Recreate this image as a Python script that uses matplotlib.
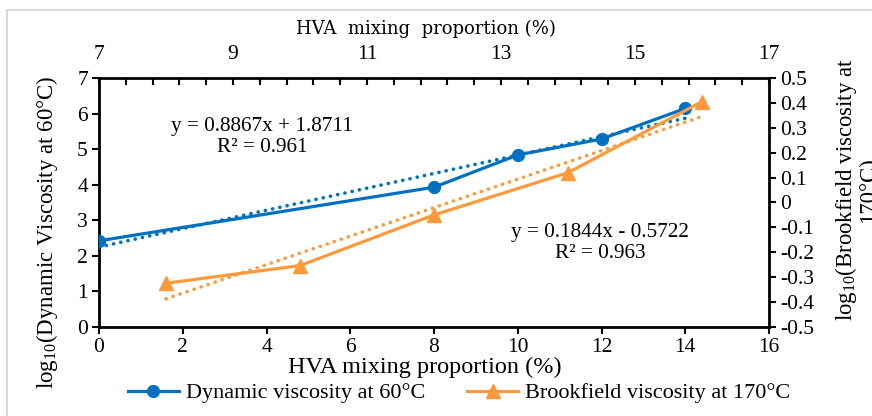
import numpy as np
import matplotlib
matplotlib.use("Agg")
import matplotlib.pyplot as plt
from matplotlib.patches import Rectangle
from matplotlib.ticker import MultipleLocator, FixedLocator, FuncFormatter

plt.rcParams['font.family'] = ['Liberation Serif', 'DejaVu Serif']
plt.rcParams['mathtext.fontset'] = 'custom'
plt.rcParams['mathtext.rm'] = 'Liberation Serif'

# dynamic viscosity at 60°C (bottom / left axes)
hva_dyn = [0, 8, 10, 12, 14]
log_dyn = [2.42, 3.93, 4.84, 5.29, 6.15]

# brookfield viscosity at 170°C (top / right axes)
hva_bf = [8, 10, 12, 14, 16]
log_bf = [-0.325, -0.254, -0.05, 0.12, 0.406]

eq_dyn = "y = 0.8867x + 1.8711\nR² = 0.961"
eq_bf = "y = 0.1844x - 0.5722\nR² = 0.963"

blue = '#0070C0'
orange = '#FF9A3C'
W, H = 872, 416

fig = plt.figure(figsize=(W / 100, H / 100), dpi=100)
pos = [99 / W, 1 - 326.7 / H, 670 / W, 248.4 / H]
ax = fig.add_axes(pos)
ax2 = fig.add_axes(pos, frameon=False)

# light grey outline round the chart area
fig.patches.append(Rectangle((7 / W, -0.1), 1.2, 1.1 - 10 / H, transform=fig.transFigure,
                             fill=False, edgecolor='#d9d9d9', lw=1.5))

dots = (0, (0.05, 2.0))

# main series
ax.plot(hva_dyn, log_dyn, color=blue, lw=2.3, marker='o', ms=8.5,
        label='Dynamic viscosity at 60°C', zorder=4)
c = np.polyfit(hva_dyn, log_dyn, 1)
xs = np.array([hva_dyn[0], hva_dyn[-1]])
ax.plot(xs, np.polyval(c, xs), color=blue, lw=2.6, ls=dots,
        dash_capstyle='round', zorder=3)

ax2.plot(hva_bf, log_bf, color=orange, lw=2.3, marker='^', ms=10,
         label='Brookfield viscosity at 170°C', zorder=4)
c2 = np.polyfit(hva_bf, log_bf, 1)
xs2 = np.array([hva_bf[0], hva_bf[-1]])
ax2.plot(xs2, np.polyval(c2, xs2), color=orange, lw=2.6, ls=dots,
         dash_capstyle='round', zorder=3)

# axes
ax.set_xlim(0, 16)
ax.set_ylim(0, 7)
ax.xaxis.set_major_locator(MultipleLocator(2))
ax.yaxis.set_major_locator(MultipleLocator(1))
ax.tick_params(axis='both', direction='out', length=5, width=1.5, labelsize=15.5, colors='black')
ax.tick_params(axis='x', pad=3)
ax.tick_params(axis='y', pad=3)
for s in ax.spines.values():
    s.set_linewidth(2)

ax2.set_xlim(7, 17)
ax2.set_ylim(-0.5, 0.5)
ax2.xaxis.tick_top()
ax2.yaxis.tick_right()
top_ticks = np.round(np.arange(7, 17.01, 0.4), 1)
ax2.xaxis.set_major_locator(FixedLocator(top_ticks))
ax2.xaxis.set_major_formatter(FuncFormatter(
    lambda v, p: f"{v:.0f}" if abs(v - round(v)) < 1e-6 and round(v) % 2 == 1 else ""))
ax2.yaxis.set_major_locator(MultipleLocator(0.1))
ax2.yaxis.set_major_formatter(FuncFormatter(lambda v, p: "0" if abs(v) < 1e-9 else f"{v:.1f}"))
ax2.tick_params(axis='x', direction='in', length=5, width=1.5, labelsize=15.5, pad=10)
ax2.tick_params(axis='y', direction='out', length=5, width=1.5, labelsize=15.5, pad=3)
ax2.patch.set_visible(False)

# trendline equations
fig.text(262 / W, 1 - 137 / H, eq_dyn, ha='center', va='center', fontsize=15.3, linespacing=1.1)
fig.text(600 / W, 1 - 243 / H, eq_bf, ha='center', va='center', fontsize=15.3, linespacing=1.1)

# axis titles
fig.text(426 / W, 1 - 29 / H, 'HVA  mixing  proportion (%)', ha='center', va='center',
         fontsize=13, family='DejaVu Serif')
fig.text(425 / W, 1 - 367 / H, 'HVA mixing proportion (%)', ha='center', va='center', fontsize=17.5)
fig.text(47 / W, 1 - 232 / H, r'log$_{10}$(Dynamic Viscosity at 60°C)', rotation=90,
         ha='center', va='center', fontsize=16.5)
fig.text(856 / W, 1 - 190 / H, 'log$_{10}$(Brookfield viscosity at\n170°C)', rotation=90,
         ha='center', va='center', fontsize=16.4, linespacing=0.95, multialignment='center')

h1, l1 = ax.get_legend_handles_labels()
h2, l2 = ax2.get_legend_handles_labels()
fig.legend(h1 + h2, l1 + l2, loc='center', bbox_to_anchor=(459 / W, 1 - 393 / H), ncol=2,
           frameon=False, fontsize=16, handlelength=2.3, columnspacing=1.9, handletextpad=0.3,
           borderpad=0)

fig.savefig('out.png', dpi=100)
